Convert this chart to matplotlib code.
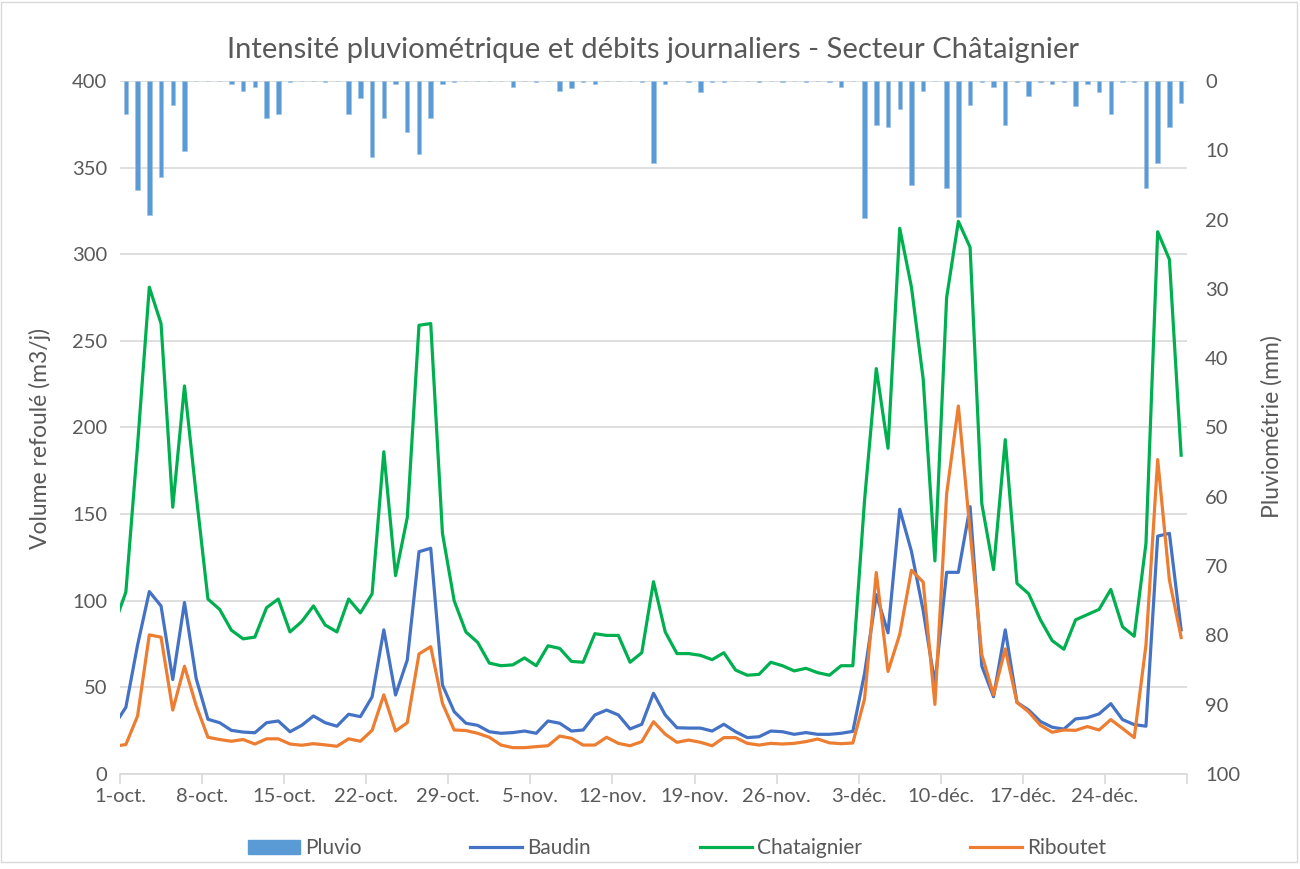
import numpy as np
import pandas as pd
import matplotlib
matplotlib.use("Agg")
import matplotlib.pyplot as plt
from matplotlib.patches import Patch, Rectangle
from matplotlib.lines import Line2D

# daily values, 30-sept. -> 30-déc.
dates = pd.date_range("2019-09-30", "2019-12-30", freq="D")

pluvio = [0, 4.7, 15.8, 19.4, 13.9, 3.4, 10.1, 0, 0, 0,
          0.4, 1.4, 0.8, 5.4, 4.7, 0.2, 0, 0, 0.2, 0,
          4.8, 2.4, 11.0, 5.4, 0.4, 7.4, 10.6, 5.4, 0.4, 0.2,
          0, 0, 0, 0, 0.8, 0, 0.2, 0, 1.4, 1.05,
          0.2, 0.4, 0, 0, 0, 0.2, 11.8, 0.4, 0, 0.2,
          1.6, 0.2, 0.2, 0, 0, 0.2, 0, 0.2, 0, 0.2,
          0, 0.2, 0.8, 0, 19.8, 6.4, 6.6, 4.0, 15.0, 1.4,
          0, 15.4, 19.6, 3.4, 0.2, 0.8, 6.4, 0.2, 2.2, 0.2,
          0.4, 0.2, 3.6, 0.4, 1.6, 4.7, 0.2, 0.2, 15.4, 11.8,
          6.6, 3.2]

baudin = [28, 38.5, 74.5, 105.3, 97, 54.5, 99, 55, 31.6, 29.6,
          25.2, 24.2, 23.8, 29.6, 30.6, 24.4, 28.1, 33.5, 29.6, 27.6,
          34.5, 33.1, 44.5, 83.2, 45.6, 65.8, 128.3, 130.3, 51.4, 36,
          29.3, 28.1, 24.4, 23.5, 23.9, 24.8, 23.5, 30.6, 29.3, 24.8,
          25.4, 34.1, 36.9, 34.1, 26, 28.7, 46.6, 34.1, 26.7, 26.5,
          26.5, 24.8, 28.7, 24.4, 21, 21.5, 24.8, 24.4, 22.9, 23.9,
          22.9, 22.9, 23.5, 24.6, 58, 103.5, 81.5, 152.8, 128.5, 94.3,
          52, 116.4, 116.4, 154.3, 62.3, 44.6, 83.2, 41.3, 36.9, 30.3,
          27, 25.9, 31.8, 32.5, 34.7, 40.6, 31.4, 28.5, 27.6, 137.3,
          138.9, 83.2]

chataignier = [86, 105, 190, 281, 260, 154, 224, 161, 101, 95,
               83, 78, 79, 96, 101, 82, 88, 97, 86, 82,
               101, 93, 104, 186, 114.5, 148, 259, 260, 139, 100,
               82, 76, 64, 62.5, 63, 67, 62.5, 74, 72.5, 65,
               64.5, 81, 80, 80, 64.5, 70, 111, 82, 69.5, 69.5,
               68.5, 66, 70, 60, 57, 57.5, 64.5, 62.5, 59.5, 61,
               58.5, 57, 62.5, 62.5, 158, 234, 188, 315, 281, 228,
               123, 275, 319, 304, 156, 118, 193, 110, 104, 89,
               77, 72, 89, 92, 95, 106.5, 85, 79.5, 133, 313,
               297, 184]

riboutet = [16, 17, 33.5, 80.3, 79, 36.9, 62.2, 39.4, 21.2, 19.9,
            18.9, 19.9, 17.3, 20.3, 20.3, 17.3, 16.6, 17.5, 16.8, 16,
            20.3, 18.9, 25.2, 45.7, 24.8, 29.6, 69.3, 73.5, 40.8, 25.4,
            25.1, 23.5, 21.2, 16.7, 15.2, 15.2, 15.8, 16.3, 21.9, 20.6,
            16.7, 16.7, 21.2, 17.7, 16.3, 18.7, 30.2, 23, 18.3, 19.6,
            18.3, 16.3, 21, 21, 17.7, 16.7, 17.7, 17.3, 17.7, 18.7,
            20.2, 18, 17.5, 17.9, 43.3, 116.3, 59.2, 80.6, 117.6, 110.8,
            40.2, 161.6, 212.4, 140, 68.9, 45.7, 72.2, 41.3, 35.8, 28.1,
            24.1, 25.4, 25.2, 27.4, 25.4, 31.4, 26.3, 21, 74.4, 181.5,
            111.9, 78.8]

tick_labels = ["1-oct.", "8-oct.", "15-oct.", "22-oct.", "29-oct.", "5-nov.",
               "12-nov.", "19-nov.", "26-nov.", "3-déc.", "10-déc.", "17-déc.",
               "24-déc.", ""]

grey = "#595959"
grid_c = "#D9D9D9"
c_pluvio = "#5B9BD5"
c_baudin = "#4472C4"
c_chat = "#00B050"
c_rib = "#ED7D31"

plt.rcParams["font.family"] = ["Lato", "DejaVu Sans"]

fig = plt.figure(figsize=(13, 8.69), dpi=100)
ax = fig.add_axes([120 / 1300, 1 - 774 / 869, 1067 / 1300, 693 / 869])
ax2 = ax.twinx()

x = dates + pd.Timedelta(hours=12)

ax.plot(x, baudin, color=c_baudin, lw=2.3, solid_joinstyle="round")
ax.plot(x, chataignier, color=c_chat, lw=2.3, solid_joinstyle="round")
ax.plot(x, riboutet, color=c_rib, lw=2.3, solid_joinstyle="round")

ax2.bar(x, pluvio, width=0.38, color=c_pluvio, edgecolor="#9DC3E6", linewidth=0.4)

ax.set_xlim(pd.Timestamp("2019-10-01"), pd.Timestamp("2019-12-31"))
ax.set_ylim(0, 400)
ax.set_yticks(np.arange(0, 401, 50))
ax2.set_ylim(100, 0)
ax2.set_yticks(np.arange(0, 101, 10))

ticks = pd.date_range("2019-10-01", "2019-12-31", freq="7D")
ax.set_xticks(ticks)
ax.set_xticklabels(tick_labels)

ax.grid(axis="y", color=grid_c, lw=1.2)
ax.set_axisbelow(True)
for a in (ax, ax2):
    for s in ("top", "left", "right"):
        a.spines[s].set_visible(False)
    a.spines["bottom"].set_color(grid_c)
    a.spines["bottom"].set_linewidth(1.2)
ax2.spines["bottom"].set_visible(False)

ax.tick_params(axis="x", colors=grid_c, length=7, width=1.2, labelcolor=grey,
               labelsize=14.5, pad=3)
ax.tick_params(axis="y", length=0, labelcolor=grey, labelsize=14.5, pad=9)
ax2.tick_params(axis="y", length=0, labelcolor=grey, labelsize=14.5, pad=13)

ax.set_ylabel("Volume refoulé (m3/j)", color=grey, fontsize=16.5)
ax.yaxis.set_label_coords(-0.065, 0.484)
ax2.set_ylabel("Pluviométrie (mm)", color=grey, fontsize=16.5, rotation=90)
ax2.yaxis.set_label_coords(1.069, 0.502)

fig.suptitle("Intensité pluviométrique et débits journaliers - Secteur Châtaignier",
             color=grey, fontsize=21, x=0.502, y=0.957)

handles = [Patch(facecolor=c_pluvio, edgecolor=c_pluvio),
           Line2D([], [], color=c_baudin, lw=2.3),
           Line2D([], [], color=c_chat, lw=2.3),
           Line2D([], [], color=c_rib, lw=2.3)]
fig.legend(handles, ["Pluvio", "Baudin", "Chataignier", "Riboutet"],
           loc="center", bbox_to_anchor=(0.521, 0.024), ncol=4, frameon=False,
           fontsize=15, labelcolor=grey, handlelength=2.5, handleheight=0.67,
           handletextpad=0.25, columnspacing=5.2)

fig.patches.append(Rectangle((0.001, 0.008), 0.997, 0.99, transform=fig.transFigure,
                             fill=False, edgecolor=grid_c, lw=1.0))

fig.savefig("out.png", dpi=100)
